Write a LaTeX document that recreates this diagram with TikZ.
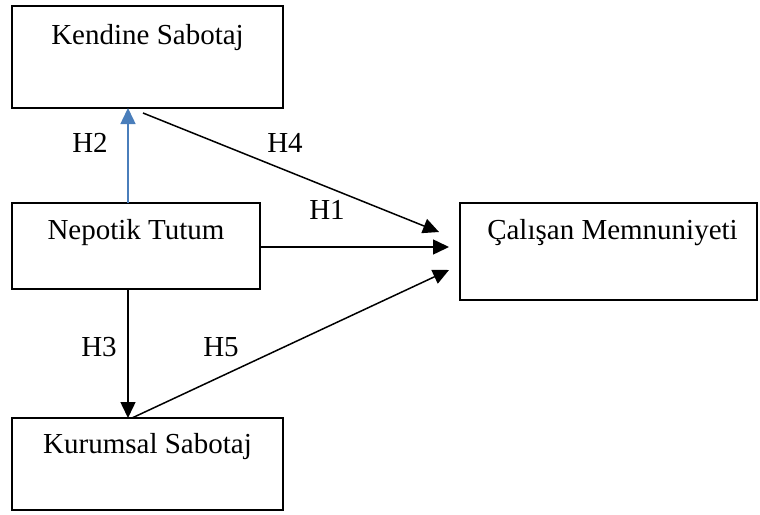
\documentclass[tikz,border=0pt]{standalone}
\usepackage{fontspec}
\setmainfont{Liberation Serif}
\usetikzlibrary{positioning,arrows.meta}
\definecolor{hblue}{RGB}{74,126,187}
\tikzset{
  box/.style={draw=black, line width=1.4pt, rectangle, inner sep=0pt},
  boxtext/.style={font=\fontsize{29}{34}\selectfont, inner sep=0pt, anchor=north},
  hlabel/.style={font=\fontsize{29}{34}\selectfont, inner sep=0pt},
  link/.style={line width=1.5pt, -{Triangle[length=16pt,width=15pt]}}
}
\begin{document}
\begin{tikzpicture}[x=1pt,y=-1pt]
\useasboundingbox (0,0) rectangle (760,514);
\node[box, minimum width=271pt, minimum height=102pt] (ks) at (147.5,57) {};
\node[box, minimum width=248pt, minimum height=86pt] (nt) at (136,246) {};
\node[box, minimum width=271pt, minimum height=92pt] (kus) at (147.5,464) {};
\node[box, minimum width=297pt, minimum height=97pt] (cm) at (608.5,251.5) {};
\node[boxtext, below=19pt of ks.north] (kst) {Kendine Sabotaj};
\node[boxtext, below=17pt of nt.north] (ntt) {Nepotik Tutum};
\node[boxtext, below=16pt of kus.north] (kust) {Kurumsal Sabotaj};
\node[boxtext, below=17pt of cm.north, xshift=4pt] (cmt) {Çalışan Memnuniyeti};
% connectors
\coordinate (ntup) at (128,203);
\coordinate (ksdown) at (128,108);
\coordinate (ntdown) at (128,289);
\coordinate (kusup) at (128,418);
\coordinate (ksstart) at (143,113);
\coordinate (cmin4) at (439,232);
\coordinate (cmin1) at (449,247);
\coordinate (cmin5) at (449,270);
\coordinate (kusstart) at (132,418);
\draw[link, hblue] (ntup) -- (ksdown);
\draw[link] (ntdown) -- (kusup);
\draw[link] (ksstart) -- (cmin4);
\draw[link] (nt.east |- cmin1) -- (cmin1);
\draw[link] (kusstart) -- (cmin5);
% labels
\node[hlabel] (h2) at (90,143) {H2};
\node[hlabel] (h4) at (285,143) {H4};
\node[hlabel] (h1) at (327,210) {H1};
\node[hlabel] (h3) at (99,347) {H3};
\node[hlabel] (h5) at (221,347) {H5};
\end{tikzpicture}
\end{document}
